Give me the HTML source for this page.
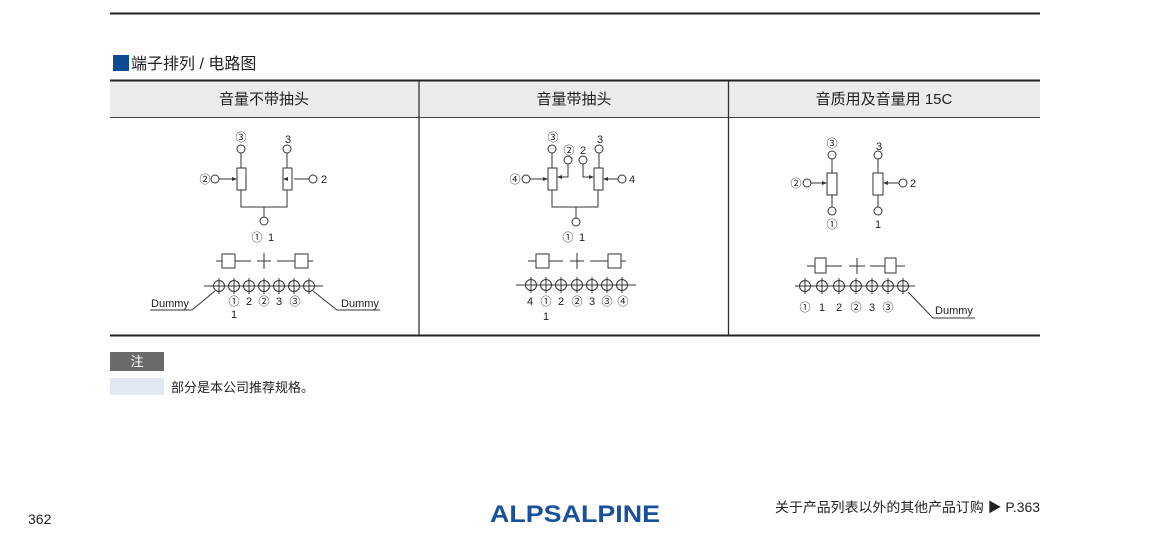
<!DOCTYPE html>
<html><head><meta charset="utf-8"><style>
body{margin:0;background:#fff;width:1150px;height:529px;overflow:hidden;font-family:"Liberation Sans","Noto Sans CJK SC",sans-serif}
</style></head><body>
<svg width="1150" height="529" viewBox="0 0 1150 529" xmlns="http://www.w3.org/2000/svg" font-family="Liberation Sans, Noto Sans CJK SC, sans-serif">
<line x1="110" y1="13.5" x2="1040" y2="13.5" stroke="#222" stroke-width="2"/>
<rect x="113" y="55" width="16" height="16" fill="#0d4a92"/>
<text x="131" y="69" font-size="16" fill="#222">端子排列 / 电路图</text>
<rect x="110" y="81" width="930" height="36" fill="#ececec"/>
<line x1="110" y1="80.5" x2="1040" y2="80.5" stroke="#222" stroke-width="2"/>
<line x1="110" y1="117.5" x2="1040" y2="117.5" stroke="#444" stroke-width="1"/>
<line x1="110" y1="335.5" x2="1040" y2="335.5" stroke="#222" stroke-width="2"/>
<line x1="419" y1="81" x2="419" y2="335" stroke="#333" stroke-width="1.3"/>
<line x1="728.5" y1="81" x2="728.5" y2="335" stroke="#333" stroke-width="1.3"/>
<g font-size="15" fill="#222" text-anchor="middle">
<text x="264" y="104">音量不带抽头</text>
<text x="574" y="104">音量带抽头</text>
<text x="884" y="104">音质用及音量用 15C</text>
</g>
<g stroke="#333" stroke-width="1" fill="none">
<circle cx="241" cy="149" r="4"/><line x1="241" y1="153" x2="241" y2="168"/>
<rect x="237" y="168" width="9" height="22"/>
<circle cx="287" cy="149" r="4"/><line x1="287" y1="153" x2="287" y2="168"/>
<rect x="283" y="168" width="9" height="22"/>
<circle cx="215" cy="179" r="4"/><line x1="219" y1="179" x2="235" y2="179"/>
<circle cx="313" cy="179" r="4"/><line x1="309" y1="179" x2="294" y2="179"/>
<polyline points="241,190 241,207 287,207 287,190"/>
<line x1="264" y1="207" x2="264" y2="217"/><circle cx="264" cy="221" r="4"/>
<line x1="216" y1="261" x2="251" y2="261"/><rect x="222" y="254" width="13" height="14" fill="#fff"/>
<line x1="264" y1="253" x2="264" y2="269"/><line x1="257" y1="261" x2="271" y2="261"/>
<line x1="277" y1="261" x2="313" y2="261"/><rect x="295" y="254" width="13" height="14" fill="#fff"/>
<line x1="204" y1="286" x2="323" y2="286"/>
<g><circle cx="219" cy="286" r="5.5"/><circle cx="234" cy="286" r="5.5"/><circle cx="249" cy="286" r="5.5"/><circle cx="264" cy="286" r="5.5"/><circle cx="279" cy="286" r="5.5"/><circle cx="294" cy="286" r="5.5"/><circle cx="309" cy="286" r="5.5"/>
<path d="M219 278v16M234 278v16M249 278v16M264 278v16M279 278v16M294 278v16M309 278v16"/></g>
<polyline points="150,310 192,310 215,291"/>
<polyline points="313,291 337,310 380,310"/>
<circle cx="552" cy="149" r="4"/><line x1="552" y1="153" x2="552" y2="168"/>
<rect x="548" y="168" width="9" height="22"/>
<circle cx="599" cy="149" r="4"/><line x1="599" y1="153" x2="599" y2="168"/>
<rect x="594" y="168" width="9" height="22"/>
<circle cx="568" cy="160" r="4"/><polyline points="568,164 568,177 559,177"/>
<circle cx="583" cy="160" r="4"/><polyline points="583,164 583,177 592,177"/>
<circle cx="526" cy="179" r="4"/><line x1="530" y1="179" x2="546" y2="179"/>
<circle cx="622" cy="179" r="4"/><line x1="618" y1="179" x2="605" y2="179"/>
<polyline points="552,190 552,207 598,207 598,190"/>
<line x1="576" y1="207" x2="576" y2="218"/><circle cx="576" cy="222" r="4"/>
<line x1="528" y1="261" x2="563" y2="261"/><rect x="536" y="254" width="13" height="14" fill="#fff"/>
<line x1="577" y1="253" x2="577" y2="269"/><line x1="570" y1="261" x2="584" y2="261"/>
<line x1="590" y1="261" x2="626" y2="261"/><rect x="608" y="254" width="13" height="14" fill="#fff"/>
<line x1="516" y1="285" x2="636" y2="285"/>
<circle cx="531" cy="285" r="5.5"/><circle cx="546" cy="285" r="5.5"/><circle cx="561" cy="285" r="5.5"/><circle cx="577" cy="285" r="5.5"/><circle cx="592" cy="285" r="5.5"/><circle cx="607" cy="285" r="5.5"/><circle cx="622" cy="285" r="5.5"/>
<path d="M531 277v16M546 277v16M561 277v16M577 277v16M592 277v16M607 277v16M622 277v16"/>
<circle cx="832" cy="155" r="4"/><line x1="832" y1="159" x2="832" y2="173"/>
<rect x="827" y="173" width="10" height="22"/><line x1="832" y1="195" x2="832" y2="207"/><circle cx="832" cy="211" r="4"/>
<circle cx="878" cy="155" r="4"/><line x1="878" y1="159" x2="878" y2="173"/>
<rect x="873" y="173" width="10" height="22"/><line x1="878" y1="195" x2="878" y2="207"/><circle cx="878" cy="211" r="4"/>
<circle cx="807" cy="183" r="4"/><line x1="811" y1="183" x2="825" y2="183"/>
<circle cx="903" cy="183" r="4"/><line x1="899" y1="183" x2="885" y2="183"/>
<line x1="807" y1="266" x2="842" y2="266"/><rect x="815" y="258" width="11" height="15" fill="#fff"/>
<line x1="857" y1="258" x2="857" y2="274"/><line x1="849" y1="266" x2="865" y2="266"/>
<line x1="870" y1="266" x2="905" y2="266"/><rect x="885" y="258" width="11" height="15" fill="#fff"/>
<line x1="795" y1="286" x2="915" y2="286"/>
<circle cx="805" cy="286" r="5.5"/><circle cx="822" cy="286" r="5.5"/><circle cx="839" cy="286" r="5.5"/><circle cx="856" cy="286" r="5.5"/><circle cx="872" cy="286" r="5.5"/><circle cx="888" cy="286" r="5.5"/><circle cx="903" cy="286" r="5.5"/>
<path d="M805 278v16M822 278v16M839 278v16M856 278v16M872 278v16M888 278v16M903 278v16"/>
<polyline points="908,292 933,318 975,318"/>
</g>
<g fill="#333">
<path d="M237 179l-5-2v4zM283 179l5-2v4zM548 179l-5-2v4zM557 177l5-2v4zM594 177l-5-2v4zM603 179l5-2v4zM827 183l-5-2v4zM883 183l5-2v4z"/>
</g>
<g font-size="11" fill="#222" text-anchor="middle">
<text x="241" y="141">③</text><text x="288" y="143">3</text>
<text x="205" y="183">②</text><text x="324" y="183">2</text>
<text x="257" y="241">①</text><text x="271" y="241">1</text>
<text x="234" y="305">①</text><text x="249" y="305">2</text><text x="264" y="305">②</text><text x="279" y="305">3</text><text x="295" y="305">③</text>
<text x="234" y="318">1</text>
<text x="170" y="307">Dummy</text><text x="360" y="307">Dummy</text>
<text x="553" y="141">③</text><text x="600" y="143">3</text>
<text x="569" y="154">②</text><text x="583" y="154">2</text>
<text x="515" y="183">④</text><text x="632" y="183">4</text>
<text x="568" y="241">①</text><text x="582" y="241">1</text>
<text x="530" y="305">4</text><text x="546" y="305">①</text><text x="561" y="305">2</text><text x="577" y="305">②</text><text x="592" y="305">3</text><text x="607" y="305">③</text><text x="623" y="305">④</text>
<text x="546" y="320">1</text>
<text x="832" y="147">③</text><text x="879" y="150">3</text>
<text x="796" y="187">②</text><text x="913" y="187">2</text>
<text x="832" y="228">①</text><text x="878" y="228">1</text>
<text x="805" y="311">①</text><text x="822" y="311">1</text><text x="839" y="311">2</text><text x="856" y="311">②</text><text x="872" y="311">3</text><text x="888" y="311">③</text>
<text x="954" y="314">Dummy</text>
</g>
<rect x="110" y="352" width="54" height="19" fill="#6b6b6b"/>
<text x="137" y="366" font-size="13" fill="#fff" text-anchor="middle">注</text>
<rect x="110" y="378" width="54" height="17" fill="#e2e8f0"/>
<text x="171" y="392" font-size="13" fill="#222">部分是本公司推荐规格。</text>
<text x="28" y="524" font-size="14" fill="#222">362</text>
<text x="490" y="522" font-size="24" font-weight="bold" fill="#1a4f9c" textLength="170" lengthAdjust="spacingAndGlyphs">ALPSALPINE</text>
<text x="775" y="512" font-size="13.5" fill="#222" textLength="265" lengthAdjust="spacingAndGlyphs">关于产品列表以外的其他产品订购 ▶ P.363</text>
</svg>
</body></html>
